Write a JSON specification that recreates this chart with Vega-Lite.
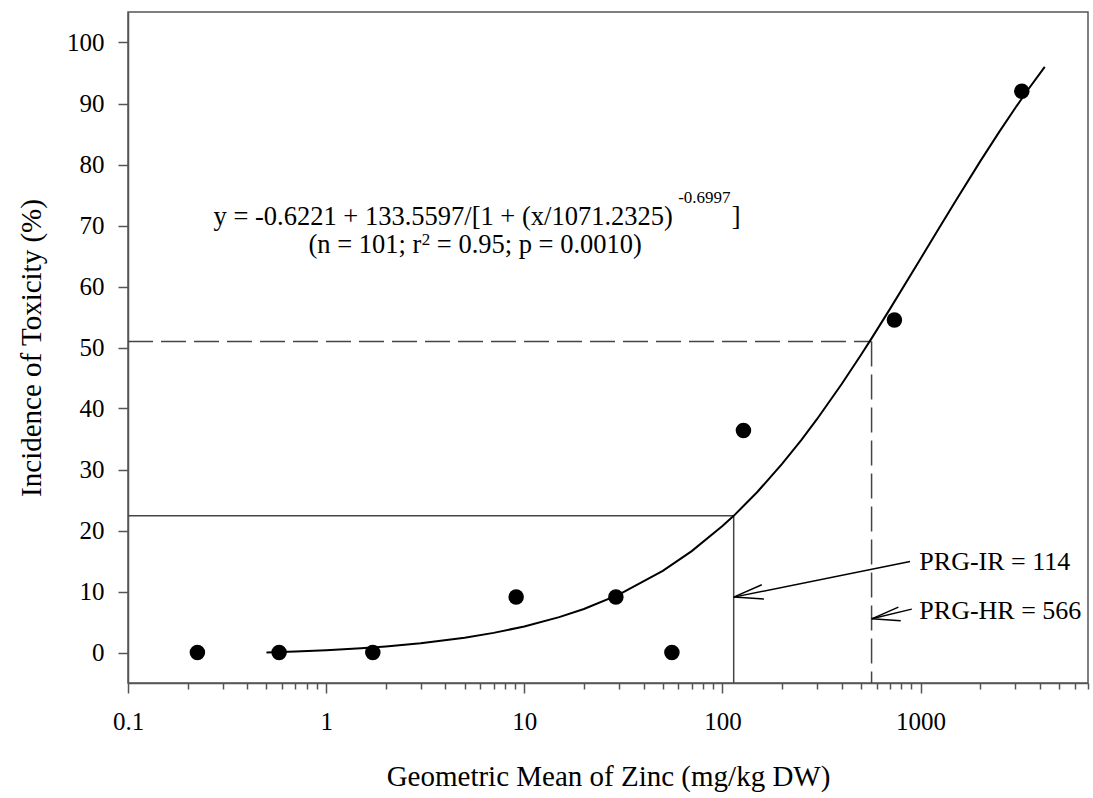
{
  "$schema": "https://vega.github.io/schema/vega-lite/v6.json",
  "autosize": {"type": "none"},
  "padding": {"left": 128, "top": 12, "right": 5, "bottom": 115},
  "width": 960,
  "height": 671,
  "background": "white",
  "config": {
    "view": {"stroke": "#555555", "strokeWidth": 1.5},
    "font": "Liberation Serif",
    "axis": {
      "labelFont": "Liberation Serif",
      "titleFont": "Liberation Serif",
      "labelColor": "black",
      "titleColor": "black",
      "titleFontWeight": "normal",
      "domainColor": "#555555",
      "domainWidth": 1.5,
      "tickColor": "#555555",
      "tickWidth": 1.5,
      "grid": false
    }
  },
  "datasets": {
    "points": [
      {"zinc": 0.224, "tox": 0},
      {"zinc": 0.579, "tox": 0},
      {"zinc": 1.72, "tox": 0},
      {"zinc": 9.1, "tox": 9.1},
      {"zinc": 29, "tox": 9.1},
      {"zinc": 55.6, "tox": 0},
      {"zinc": 127.7, "tox": 36.4},
      {"zinc": 738, "tox": 54.5},
      {"zinc": 3243, "tox": 92}
    ],
    "curve": [
      {"zinc": 0.5, "tox": 0.0},
      {"zinc": 0.7, "tox": 0.163},
      {"zinc": 1, "tox": 0.383},
      {"zinc": 1.5, "tox": 0.71},
      {"zinc": 2, "tox": 1.003},
      {"zinc": 3, "tox": 1.528},
      {"zinc": 5, "tox": 2.431},
      {"zinc": 7, "tox": 3.218},
      {"zinc": 10, "tox": 4.267},
      {"zinc": 15, "tox": 5.793},
      {"zinc": 20, "tox": 7.14},
      {"zinc": 30, "tox": 9.494},
      {"zinc": 50, "tox": 13.384},
      {"zinc": 70, "tox": 16.623},
      {"zinc": 100, "tox": 20.729},
      {"zinc": 114, "tox": 22.4},
      {"zinc": 150, "tox": 26.319},
      {"zinc": 200, "tox": 30.909},
      {"zinc": 250, "tox": 34.824},
      {"zinc": 300, "tox": 38.242},
      {"zinc": 400, "tox": 44.012},
      {"zinc": 500, "tox": 48.764},
      {"zinc": 566, "tox": 51.5},
      {"zinc": 700, "tox": 56.29},
      {"zinc": 1000, "tox": 64.551},
      {"zinc": 1200, "tox": 68.807},
      {"zinc": 1500, "tox": 73.984},
      {"zinc": 2000, "tox": 80.515},
      {"zinc": 2500, "tox": 85.396},
      {"zinc": 3000, "tox": 89.227},
      {"zinc": 3500, "tox": 92.341},
      {"zinc": 4234, "tox": 96.0}
    ],
    "solidRefs": [
      {"x1": 0.1, "y1": 22.4, "x2": 114, "y2": 22.4},
      {"x1": 114, "y1": 22.4, "x2": 114, "y2": -5}
    ],
    "dashRefs": [
      {"x1": 0.1, "y1": 51, "x2": 566, "y2": 51},
      {"x1": 566, "y1": 51, "x2": 566, "y2": -5}
    ],
    "arrows": [
      {"x1": 885, "y1": 14.92, "x2": 114, "y2": 9.08},
      {"x1": 114, "y1": 9.08, "x2": 158, "y2": 11.1},
      {"x1": 114, "y1": 9.08, "x2": 162.3, "y2": 8.75},
      {"x1": 903, "y1": 7.11, "x2": 567, "y2": 5.52},
      {"x1": 567, "y1": 5.52, "x2": 773, "y2": 7.44},
      {"x1": 567, "y1": 5.52, "x2": 794, "y2": 5.2}
    ],
    "labels": [
      {"x": 986, "y": 13.56, "text": "PRG-IR = 114"},
      {"x": 986, "y": 5.52, "text": "PRG-HR = 566"}
    ],
    "eqMain": [
      {"x": 0.2704, "y": 70.11, "text": "y = -0.6221 + 133.5597/[1 + (x/1071.2325)"},
      {"x": 111.5, "y": 70.11, "text": "]"},
      {"x": 0.815, "y": 65.57, "text": "(n = 101; r"},
      {"x": 3.619, "y": 65.57, "text": "= 0.95; p = 0.0010)"}
    ],
    "eqSup": [
      {"x": 59.77, "y": 73.77, "text": "-0.6997"},
      {"x": 3.036, "y": 66.84, "text": "2"}
    ]
  },
  "layer": [
    {
      "data": {"name": "solidRefs"},
      "mark": {"type": "rule", "color": "#444444", "strokeWidth": 1.5},
      "encoding": {
        "x": {
          "field": "x1", "type": "quantitative",
          "scale": {"type": "log", "domain": [0.1, 7000], "nice": false},
          "axis": {
            "title": "Geometric Mean of Zinc (mg/kg DW)",
            "titleFontSize": 29,
            "titlePadding": 28,
            "labelFontSize": 25,
            "labelPadding": 16,
            "labelOverlap": false,
            "labelFlush": false,
            "values": [0.1, 0.2, 0.3, 0.4, 0.5, 0.6, 0.7, 0.8, 0.9, 1, 2, 3, 4, 5, 6, 7, 8, 9, 10, 20, 30, 40, 50, 60, 70, 80, 90, 100, 200, 300, 400, 500, 600, 700, 800, 900, 1000, 2000, 3000, 4000, 5000, 6000, 7000],
            "tickSize": {"condition": {"test": "datum.value == 0.1 || datum.value == 1 || datum.value == 10 || datum.value == 100 || datum.value == 1000", "value": 10}, "value": 6},
            "labelExpr": "datum.value == 0.1 ? '0.1' : datum.value == 1 ? '1' : datum.value == 10 ? '10' : datum.value == 100 ? '100' : datum.value == 1000 ? '1000' : ''"
          }
        },
        "y": {
          "field": "y1", "type": "quantitative",
          "scale": {"domain": [-5, 105], "nice": false, "zero": false},
          "axis": {
            "title": "Incidence of Toxicity (%)",
            "titleFontSize": 29,
            "titlePadding": 20,
            "labelFontSize": 25,
            "labelPadding": 14,
            "tickSize": 10,
            "values": [0, 10, 20, 30, 40, 50, 60, 70, 80, 90, 100]
          }
        },
        "x2": {"field": "x2"},
        "y2": {"field": "y2"}
      }
    },
    {
      "data": {"name": "dashRefs"},
      "mark": {"type": "rule", "color": "#444444", "strokeWidth": 1.5, "strokeDash": [25, 8]},
      "encoding": {
        "x": {"field": "x1", "type": "quantitative"},
        "y": {"field": "y1", "type": "quantitative"},
        "x2": {"field": "x2"},
        "y2": {"field": "y2"}
      }
    },
    {
      "data": {"name": "curve"},
      "mark": {"type": "line", "color": "black", "strokeWidth": 2},
      "encoding": {
        "x": {"field": "zinc", "type": "quantitative"},
        "y": {"field": "tox", "type": "quantitative"}
      }
    },
    {
      "data": {"name": "points"},
      "mark": {"type": "circle", "color": "black", "opacity": 1, "size": 240},
      "encoding": {
        "x": {"field": "zinc", "type": "quantitative"},
        "y": {"field": "tox", "type": "quantitative"}
      }
    },
    {
      "data": {"name": "arrows"},
      "mark": {"type": "rule", "color": "black", "strokeWidth": 1.5},
      "encoding": {
        "x": {"field": "x1", "type": "quantitative"},
        "y": {"field": "y1", "type": "quantitative"},
        "x2": {"field": "x2"},
        "y2": {"field": "y2"}
      }
    },
    {
      "data": {"name": "labels"},
      "mark": {"type": "text", "align": "left", "baseline": "alphabetic", "fontSize": 26, "font": "Liberation Serif", "color": "black"},
      "encoding": {
        "x": {"field": "x", "type": "quantitative"},
        "y": {"field": "y", "type": "quantitative"},
        "text": {"field": "text"}
      }
    },
    {
      "data": {"name": "eqMain"},
      "mark": {"type": "text", "align": "left", "baseline": "alphabetic", "fontSize": 26.5, "font": "Liberation Serif", "color": "black"},
      "encoding": {
        "x": {"field": "x", "type": "quantitative"},
        "y": {"field": "y", "type": "quantitative"},
        "text": {"field": "text"}
      }
    },
    {
      "data": {"name": "eqSup"},
      "mark": {"type": "text", "align": "left", "baseline": "alphabetic", "fontSize": 17, "font": "Liberation Serif", "color": "black"},
      "encoding": {
        "x": {"field": "x", "type": "quantitative"},
        "y": {"field": "y", "type": "quantitative"},
        "text": {"field": "text"}
      }
    }
  ]
}
